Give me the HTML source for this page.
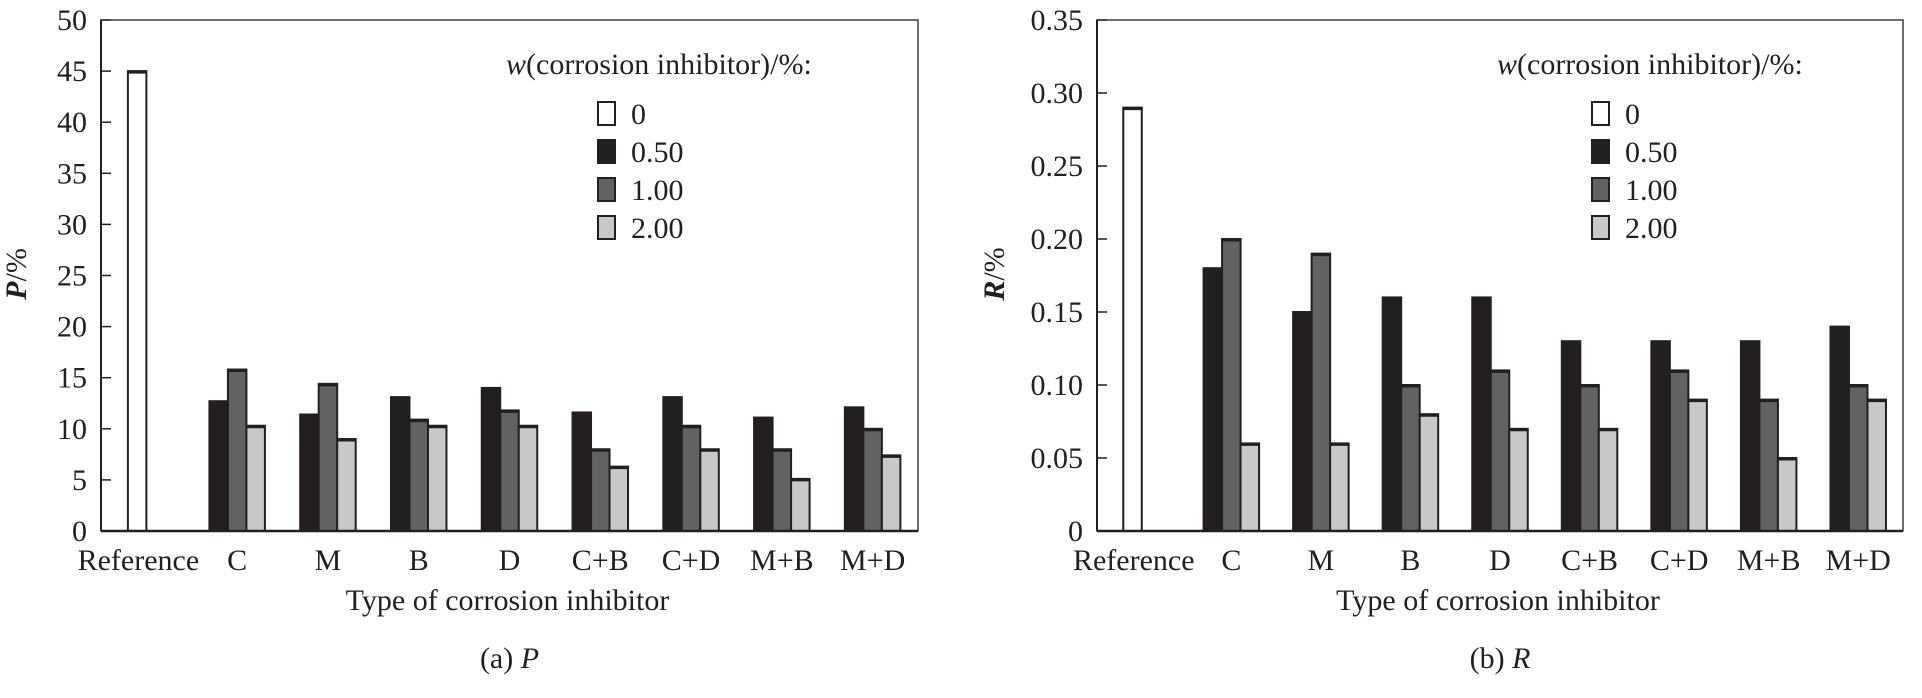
<!DOCTYPE html>
<html><head><meta charset="utf-8"><style>
html,body{margin:0;padding:0;background:#fff;}
svg text{font-family:"Liberation Serif",serif;fill:#231f20;}
</style></head><body>
<svg id="chart" width="1922" height="693" viewBox="0 0 1922 693" xmlns="http://www.w3.org/2000/svg"></svg>
<script>
const categories = ["Reference","C","M","B","D","C+B","C+D","M+B","M+D"];
const seriesNames = ["0","0.50","1.00","2.00"];
const refP = 45;
const p050 = [12.7,11.4,13.1,14.0,11.6,13.1,11.1,12.1];
const p100 = [15.8,14.4,10.9,11.8,8.0,10.3,8.0,10.0];
const p200 = [10.3,9.0,10.3,10.3,6.3,8.0,5.1,7.4];
const refR = 0.29;
const r050 = [0.18,0.15,0.16,0.16,0.13,0.13,0.13,0.14];
const r100 = [0.20,0.19,0.10,0.11,0.10,0.11,0.09,0.10];
const r200 = [0.06,0.06,0.08,0.07,0.07,0.09,0.05,0.09];
const pTicks = ["0","5","10","15","20","25","30","35","40","45","50"];
const rTicks = ["0","0.05","0.10","0.15","0.20","0.25","0.30","0.35"];

const fills = ["#ffffff","#231f20","#626262","#c8c8c8"];
const FS = 30;
const NS = "http://www.w3.org/2000/svg";
const svg = document.getElementById('chart');
function mk(tag, attrs, parent){
  const e = document.createElementNS(NS, tag);
  for (const k in attrs) e.setAttribute(k, attrs[k]);
  (parent||svg).appendChild(e); return e;
}

function drawPanel(cfg){
  const g = mk('g', {});
  
  
  const L=cfg.left, R=cfg.right, T=20, B=531;
  const band=(R-L)/categories.length;
  const ymax=parseFloat(cfg.ticks[cfg.ticks.length-1]);
  const y=v=>B-(v/ymax)*(B-T);
  const xc=i=>L+(i+0.5)*band;
  const bw=18.5;
  function bar(x,v,fill,nm){
    const r=mk('rect',{x:x,y:y(v),width:bw,height:B-y(v),fill:fill,stroke:'#231f20','stroke-width':2},g);
    
    
    const t=mk('line',{x1:x,x2:x+bw,y1:y(v)+1,y2:y(v)+1,stroke:'#231f20','stroke-width':3},g);
    
    
  }
  bar(xc(0)-bw, cfg.ref, fills[0], 'bar-reference');
  for(let i=0;i<8;i++){
    const c=xc(i+1);
    [cfg.s1,cfg.s2,cfg.s3].forEach((s,k)=>{
      bar(c-1.5*bw+k*bw, s[i], fills[k+1], 'bar-'+categories[i+1].replace('+','-plus-').toLowerCase()+'-'+seriesNames[k+1].replace('.',''));
    });
  }
  const fr=mk('rect',{x:L,y:T,width:R-L,height:B-T,fill:'none',stroke:'#231f20','stroke-width':1.3},g);
  
  
  const xa=mk('line',{x1:L,x2:R,y1:B,y2:B,stroke:'#231f20','stroke-width':2.5},g);
  
  
  const ya=mk('line',{x1:L,x2:L,y1:T,y2:B,stroke:'#231f20','stroke-width':2},g);
  
  
  cfg.ticks.forEach(tl=>{
    const v=parseFloat(tl);
    const tk=mk('line',{x1:L,x2:L+10,y1:y(v),y2:y(v),stroke:'#231f20','stroke-width':1.5},g);
    
    
    const t=mk('text',{x:L-14,y:y(v)+10,'font-size':FS,'text-anchor':'end'},g);
    t.textContent=tl;
    
    
  });
  categories.forEach((c,i)=>{
    const t=mk('text',{x:xc(i)-(i==0?8:0),y:570,'font-size':FS,'text-anchor':'middle'},g);
    t.textContent=c;
    
    
  });
  const xt=mk('text',{x:(L+R)/2-2,y:610,'font-size':FS,'text-anchor':'middle'},g);
  xt.textContent='Type of corrosion inhibitor';
  
  
  const yt=mk('text',{x:0,y:0,'font-size':FS,'text-anchor':'middle',transform:'translate('+cfg.ytx+',274) rotate(-90)'},g);
  yt.innerHTML='<tspan font-style="italic" font-weight="bold">'+cfg.ysym+'</tspan>/%';
  
  
  const cap=mk('text',{x:(L+R)/2,y:668,'font-size':FS,'text-anchor':'middle'},g);
  cap.innerHTML=cfg.cap+' <tspan font-style="italic">'+cfg.ysym+'</tspan>';
  
  
  const lg=mk('g',{},g);
  
  
  const lt=mk('text',{x:cfg.legX,y:74,'font-size':FS},lg);
  lt.innerHTML='<tspan font-style="italic">w</tspan>(corrosion inhibitor)/%:';
  
  
  seriesNames.forEach((s,k)=>{
    const yy=102+k*38;
    const b=mk('rect',{x:cfg.boxX,y:yy,width:17,height:23,fill:fills[k],stroke:'#231f20','stroke-width':2},lg);
    
    
    const t=mk('text',{x:cfg.boxX+33,y:yy+22,'font-size':FS},lg);
    t.textContent=s;
    
    
  });
}
drawPanel({name:'panel-p',left:101,right:918,ticks:pTicks,ref:refP,s1:p050,s2:p100,s3:p200,ysym:'P',ytx:26,cap:'(a)',legX:506,boxX:598});
drawPanel({name:'panel-r',left:1097,right:1903,ticks:rTicks,ref:refR,s1:r050,s2:r100,s3:r200,ysym:'R',ytx:1004,cap:'(b)',legX:1497,boxX:1592});
</script>
</body></html>
